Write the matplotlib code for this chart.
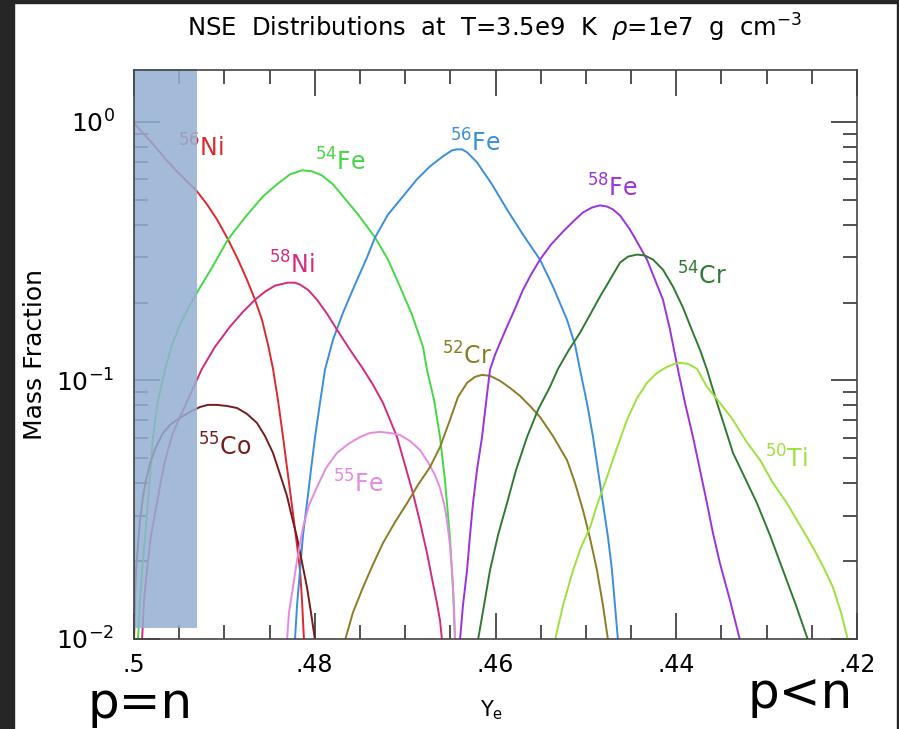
import matplotlib
matplotlib.use('Agg')
import matplotlib.pyplot as plt
from matplotlib.ticker import MultipleLocator, LogLocator, NullFormatter
from matplotlib.patches import Rectangle

# values: Ye and mass fraction for each species
ni56_ye = [0.5, 0.49878, 0.49768, 0.49657, 0.49546, 0.49436, 0.49303, 0.49192, 0.49082, 0.48960,
           0.48849, 0.48750, 0.48661, 0.48584, 0.48517, 0.48462, 0.48407, 0.48351, 0.48296, 0.48241,
           0.48196, 0.48163, 0.48141, 0.48119]
ni56_x = [0.987, 0.886, 0.804, 0.722, 0.654, 0.599, 0.538, 0.479, 0.419, 0.351,
          0.293, 0.245, 0.205, 0.1716, 0.1373, 0.1108, 0.0840, 0.0604, 0.0430, 0.0306,
          0.0230, 0.01844, 0.0141, 0.0099]

fe54_ye = [0.49956, 0.49934, 0.49911, 0.49878, 0.49834, 0.49790, 0.49734, 0.49657, 0.49580, 0.49491,
           0.49380, 0.49270, 0.49137, 0.48960, 0.48772, 0.48573, 0.48418, 0.48274, 0.48141, 0.48030,
           0.47920, 0.47798, 0.47687, 0.47521, 0.47333, 0.47189, 0.47057, 0.46924, 0.46802, 0.46758,
           0.46680, 0.46614, 0.46559, 0.46504, 0.46470, 0.46448]
fe54_x = [0.0099, 0.0141, 0.01844, 0.0247, 0.0376, 0.0604, 0.0840, 0.110, 0.1373, 0.1641,
          0.1962, 0.2284, 0.2729, 0.351, 0.4265, 0.5144, 0.5727, 0.626, 0.649, 0.643,
          0.620, 0.5727, 0.5144, 0.438, 0.357, 0.293, 0.2304, 0.1794, 0.1348, 0.110,
          0.0840, 0.0604, 0.0411, 0.0247, 0.01542, 0.0099]

fe56_ye = [0.48219, 0.48196, 0.48163, 0.48130, 0.48086, 0.48042, 0.47997, 0.47942, 0.47887, 0.47798,
           0.47687, 0.47555, 0.47422, 0.47333, 0.47189, 0.47024, 0.46869, 0.46725, 0.46581, 0.46481,
           0.46426, 0.46371, 0.46315, 0.46205, 0.46039, 0.45873, 0.45696, 0.45508, 0.45364, 0.45209,
           0.45120, 0.45065, 0.44988, 0.44921, 0.44866, 0.44811, 0.44755, 0.44711, 0.44678, 0.44645]
fe56_x = [0.0099, 0.01349, 0.01844, 0.0252, 0.0335, 0.0450, 0.0604, 0.0818, 0.110, 0.1436,
          0.1827, 0.2345, 0.2985, 0.357, 0.438, 0.5144, 0.599, 0.672, 0.735, 0.775,
          0.782, 0.782, 0.762, 0.697, 0.5727, 0.458, 0.366, 0.293, 0.2304, 0.1716,
          0.1373, 0.110, 0.0818, 0.0604, 0.0450, 0.0335, 0.0247, 0.01844, 0.01349, 0.0099]

ni58_ye = [0.49911, 0.49889, 0.49856, 0.49812, 0.49746, 0.49690, 0.49635, 0.49569, 0.49491, 0.49380,
           0.49248, 0.49104, 0.48938, 0.48794, 0.48661, 0.48550, 0.48440, 0.48296, 0.48219, 0.48163,
           0.48075, 0.47975, 0.47864, 0.47754, 0.47610, 0.47466, 0.47355, 0.47245, 0.47167, 0.47090,
           0.47001, 0.46913, 0.46835, 0.46758, 0.46703, 0.46647, 0.46614, 0.46592]
ni58_x = [0.0099, 0.0141, 0.01844, 0.0252, 0.0335, 0.0430, 0.0524, 0.0626, 0.0722, 0.0879,
          0.1108, 0.1348, 0.1612, 0.1842, 0.205, 0.2203, 0.2325, 0.2387, 0.2387, 0.2345,
          0.224, 0.205, 0.1810, 0.157, 0.1313, 0.1108, 0.0961, 0.0818, 0.0703, 0.0604,
          0.0470, 0.0366, 0.0283, 0.0215, 0.01716, 0.01373, 0.0118, 0.0099]

co55_ye = [0.5, 0.49989, 0.49978, 0.49956, 0.49934, 0.49900, 0.49867, 0.49823, 0.49757, 0.49679,
           0.49591, 0.49491, 0.49380, 0.49270, 0.49181, 0.49082, 0.48971, 0.48860, 0.48750, 0.48639,
           0.48550, 0.48462, 0.48385, 0.48307, 0.48252, 0.48196, 0.48141, 0.48086, 0.48042, 0.47997]
co55_x = [0.0099, 0.0141, 0.01844, 0.0230, 0.0288, 0.0357, 0.0411, 0.0479, 0.0552, 0.0626,
          0.0678, 0.0716, 0.0755, 0.0789, 0.0804, 0.0804, 0.0796, 0.0782, 0.0742, 0.0684,
          0.0609, 0.0524, 0.0434, 0.0357, 0.0296, 0.0247, 0.0198, 0.01584, 0.01267, 0.0099]

fe55_ye = [0.48307, 0.48285, 0.48241, 0.48196, 0.48130, 0.48064, 0.47975, 0.47876, 0.47754, 0.47632,
           0.47499, 0.47389, 0.47278, 0.47167, 0.47057, 0.46946, 0.46836, 0.46747, 0.46669, 0.46614,
           0.46570, 0.46537, 0.46504, 0.46481, 0.46459, 0.46448]
fe55_x = [0.0099, 0.01267, 0.01584, 0.0202, 0.0270, 0.0329, 0.0387, 0.0458, 0.0524, 0.0567,
          0.0604, 0.0626, 0.0632, 0.0626, 0.0615, 0.0583, 0.0538, 0.0483, 0.0430, 0.0383,
          0.0335, 0.0288, 0.0230, 0.01844, 0.01349, 0.0099]

cr52_ye = [0.47665, 0.47577, 0.47466, 0.47355, 0.47245, 0.47112, 0.46979, 0.46858, 0.46725, 0.46614,
           0.46504, 0.46415, 0.46315, 0.46227, 0.46149, 0.46061, 0.45950, 0.45840, 0.45729, 0.45618,
           0.45508, 0.45364, 0.45209, 0.45120, 0.45032, 0.44954, 0.44877, 0.44811, 0.44755]
cr52_x = [0.0099, 0.01267, 0.01584, 0.01944, 0.0235, 0.0283, 0.0335, 0.0394, 0.0462, 0.0552,
          0.0703, 0.0863, 0.0978, 0.1032, 0.1050, 0.1041, 0.0996, 0.0935, 0.0871, 0.0796,
          0.0722, 0.0609, 0.0492, 0.0401, 0.0315, 0.0245, 0.01844, 0.01349, 0.0099]

fe58_ye = [0.46393, 0.46360, 0.46315, 0.46282, 0.46249, 0.46205, 0.46149, 0.46105, 0.46061, 0.46005,
           0.45950, 0.45873, 0.45784, 0.45696, 0.45607, 0.45508, 0.45386, 0.45253, 0.45142, 0.45032,
           0.44932, 0.44844, 0.44766, 0.44700, 0.44622, 0.44512, 0.44423, 0.44324, 0.44235, 0.44147,
           0.44069, 0.43981, 0.43903, 0.43815, 0.43737, 0.43660, 0.43593, 0.43516, 0.43405, 0.43295]
fe58_x = [0.0099, 0.01349, 0.01844, 0.0252, 0.0335, 0.0450, 0.0604, 0.0818, 0.110, 0.1256,
          0.1397, 0.1612, 0.1893, 0.224, 0.2563, 0.293, 0.335, 0.376, 0.411, 0.446,
          0.466, 0.475, 0.470, 0.458, 0.434, 0.383, 0.338, 0.293, 0.245, 0.205,
          0.157, 0.110, 0.0818, 0.0604, 0.0450, 0.0335, 0.0256, 0.0196, 0.0141, 0.0099]

cr54_ye = [0.46194, 0.46127, 0.46061, 0.45972, 0.45873, 0.45773, 0.45651, 0.45530, 0.45397, 0.45308,
           0.45187, 0.45065, 0.44954, 0.44844, 0.44733, 0.44622, 0.44534, 0.44434, 0.44346, 0.44257,
           0.44147, 0.44036, 0.43925, 0.43815, 0.43737, 0.43660, 0.43549, 0.43460, 0.43372, 0.43239,
           0.43107, 0.42963, 0.42819, 0.42675, 0.42542]
cr54_x = [0.0099, 0.01349, 0.01844, 0.0252, 0.0335, 0.0450, 0.0604, 0.0769, 0.0944, 0.1108,
          0.1313, 0.1528, 0.1794, 0.2107, 0.245, 0.2853, 0.301, 0.3065, 0.3039, 0.293,
          0.268, 0.2304, 0.191, 0.1528, 0.1313, 0.110, 0.0818, 0.0655, 0.0524, 0.0419,
          0.0335, 0.0252, 0.01844, 0.01349, 0.0099]

ti50_ye = [0.45342, 0.45253, 0.45142, 0.45054, 0.44954, 0.44866, 0.44766, 0.44656, 0.44545, 0.44434,
           0.44324, 0.44213, 0.44102, 0.44014, 0.43958, 0.43870, 0.43770, 0.43660, 0.43516, 0.43372,
           0.43229, 0.43073, 0.42929, 0.42775, 0.42631, 0.42487, 0.42376, 0.42266, 0.42177, 0.42100]
ti50_x = [0.0099, 0.01349, 0.01844, 0.0226, 0.0270, 0.0338, 0.0423, 0.0548, 0.0703, 0.0855,
          0.0978, 0.1069, 0.1128, 0.1159, 0.1169, 0.1159, 0.1108, 0.0944, 0.0818, 0.0703,
          0.0583, 0.0492, 0.0401, 0.0335, 0.0275, 0.0226, 0.0191, 0.01584, 0.01267, 0.0099]

series = [
    (ni56_ye, ni56_x, '#e0282c'),
    (fe54_ye, fe54_x, '#45d845'),
    (fe56_ye, fe56_x, '#3a8edc'),
    (ni58_ye, ni58_x, '#d42a7e'),
    (co55_ye, co55_x, '#761c1c'),
    (fe55_ye, fe55_x, '#e58ae2'),
    (cr52_ye, cr52_x, '#8a7d22'),
    (fe58_ye, fe58_x, '#9b32e0'),
    (cr54_ye, cr54_x, '#2f7a30'),
    (ti50_ye, ti50_x, '#9de23c'),
]

# label text, axes-fraction position, colour
labels = [
    (r'$^{56}$Ni', 0.061, 0.847, '#e0282c'),
    (r'$^{54}$Fe', 0.250, 0.824, '#45d845'),
    (r'$^{58}$Ni', 0.187, 0.643, '#d42a7e'),
    (r'$^{56}$Fe', 0.437, 0.856, '#3a8edc'),
    (r'$^{58}$Fe', 0.627, 0.777, '#9b32e0'),
    (r'$^{54}$Cr', 0.751, 0.622, '#2f7a30'),
    (r'$^{52}$Cr', 0.426, 0.482, '#8a7d22'),
    (r'$^{55}$Co', 0.0885, 0.323, '#761c1c'),
    (r'$^{55}$Fe', 0.275, 0.257, '#e58ae2'),
    (r'$^{50}$Ti', 0.873, 0.302, '#9de23c'),
]

xticks = [0.5, 0.48, 0.46, 0.44, 0.42]
xticklabels = ['.5', '.48', '.46', '.44', '.42']

fig = plt.figure(figsize=(8.99, 7.29), dpi=100)
ax = fig.add_axes([134/899, 90/729, 723/899, 569/729])

for ye, x, c in series:
    ax.plot(ye, x, color=c, lw=1.4, zorder=2)

ax.set_yscale('log')
ax.set_xlim(0.5, 0.42)
ax.set_ylim(0.01, 1.585)

ax.set_xticks(xticks)
ax.set_xticklabels(xticklabels)
ax.xaxis.set_minor_locator(MultipleLocator(0.005))
ax.yaxis.set_minor_locator(LogLocator(base=10, subs=range(2, 10)))
ax.yaxis.set_minor_formatter(NullFormatter())
ax.tick_params(which='both', direction='in', top=True, right=True, color='#333333', width=1.2)
ax.tick_params(which='major', length=19, pad=10)
ax.tick_params(axis='x', which='major', labelsize=17)
ax.tick_params(axis='y', which='major', labelsize=18, pad=14)
ax.tick_params(which='minor', length=10)
for s in ax.spines.values():
    s.set_color('#444444')
    s.set_linewidth(1.2)

for txt, fx, fy, c in labels:
    z = 2 if txt.endswith('Ni') and fx < 0.1 else 3
    ax.text(fx, fy, txt, color=c, fontsize=17, transform=ax.transAxes, zorder=z)

# shaded p=n band
ax.add_patch(Rectangle((0, 0.019), 63/723, 0.983, transform=ax.transAxes,
                       facecolor='#93b0d2', alpha=0.85, lw=0, zorder=2.4, clip_on=False))

ax.set_ylabel('Mass Fraction', fontsize=18)
ax.yaxis.set_label_coords(-0.121, 0.5)
ax.set_xlabel(r'Y$_\mathregular{e}$', fontsize=15)
ax.xaxis.set_label_coords(0.495, -0.105)

fig.text(495/899, 1 - 28/729, r'NSE  Distributions  at  T=3.5e9  K  $\rho$=1e7  g  cm$^{-3}$',
         fontsize=17.5, ha='center', va='center')

fig.text(140/899, 1 - 718/729, 'p=n', fontsize=36, ha='center', va='baseline')
fig.text(800/899, 1 - 708/729, 'p<n', fontsize=36, ha='center', va='baseline')

# dark screenshot edges
fig.patches.append(Rectangle((0, 0), 14/899, 1, transform=fig.transFigure, color='#262626'))
fig.patches.append(Rectangle((0, 1 - 3/729), 1, 3/729, transform=fig.transFigure, color='#262626'))
fig.patches.append(Rectangle((897/899, 0), 2/899, 1, transform=fig.transFigure, color='#262626'))

plt.savefig('out.png', dpi=100)
